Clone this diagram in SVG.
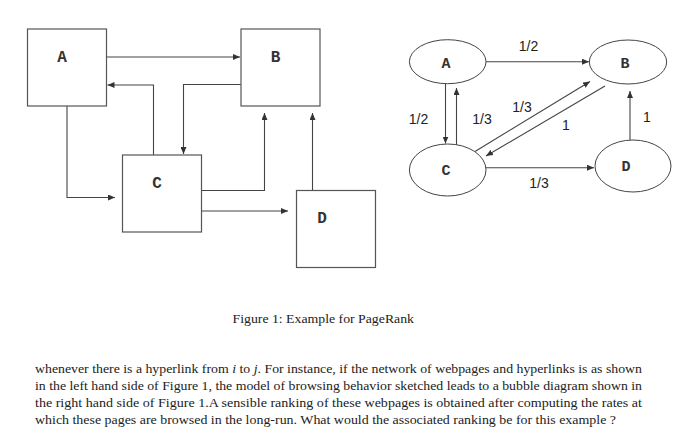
<svg xmlns="http://www.w3.org/2000/svg" width="700" height="435" viewBox="0 0 700 435">
<style>
.box{fill:#fff;stroke:#555;stroke-width:1.2}
.ell{fill:#fff;stroke:#444;stroke-width:1}
.ln{fill:none;stroke:#444;stroke-width:1.1}
.lbl{font-family:"Liberation Mono",monospace;font-size:16px;font-weight:bold;fill:#333;text-anchor:middle}
.nl{font-family:"Liberation Mono",monospace;font-size:15px;font-weight:bold;fill:#333;text-anchor:middle}
.wt{font-family:"Liberation Sans",Arial,sans-serif;font-size:14px;fill:#222;text-anchor:middle}
.tx{font-family:"Liberation Serif","Times New Roman",serif;font-size:13.5px;fill:#222}
</style>
<defs>
<marker id="ah" markerUnits="userSpaceOnUse" markerWidth="8" markerHeight="6" refX="7" refY="3" orient="auto">
<path d="M0,0 L7,3 L0,6 z" fill="#333"/>
</marker>
</defs>
<rect width="700" height="435" fill="#fff"/>
<g id="left-connectors">
<path class="ln" d="M107,57 H240" marker-end="url(#ah)"/>
<path class="ln" d="M153.5,155 V85 H107.5" marker-end="url(#ah)"/>
<path class="ln" d="M241,84.5 H183.5 V154" marker-end="url(#ah)"/>
<path class="ln" d="M67,106 V197.5 H115" marker-end="url(#ah)"/>
<path class="ln" d="M201,190.5 H264.5 V113" marker-end="url(#ah)"/>
<path class="ln" d="M201,211 H288" marker-end="url(#ah)"/>
<path class="ln" d="M312.5,190 V113" marker-end="url(#ah)"/>
</g>
<g id="box-A"><rect class="box" x="27.5" y="29" width="79" height="77"/><text class="lbl" x="62" y="62">A</text></g>
<g id="box-B"><rect class="box" x="241" y="29" width="79" height="77"/><text class="lbl" x="275.5" y="62">B</text></g>
<g id="box-C"><rect class="box" x="122.5" y="155" width="79" height="77"/><text class="lbl" x="157" y="188">C</text></g>
<g id="box-D"><rect class="box" x="296.5" y="190.5" width="79" height="77"/><text class="lbl" x="322" y="223">D</text></g>
<g id="right-connectors">
<path class="ln" d="M486,61.7 H589" marker-end="url(#ah)"/>
<path class="ln" d="M445.5,84 V143.5" marker-end="url(#ah)"/>
<path class="ln" d="M456.5,145 V88" marker-end="url(#ah)"/>
<path class="ln" d="M475,151.5 L590,81.5" marker-end="url(#ah)"/>
<path class="ln" d="M605,86 L486,156" marker-end="url(#ah)"/>
<path class="ln" d="M486,167.7 H594" marker-end="url(#ah)"/>
<path class="ln" d="M630,140 V91" marker-end="url(#ah)"/>
<text class="wt" x="528.5" y="50.5">1/2</text>
<text class="wt" x="418.5" y="123.5">1/2</text>
<text class="wt" x="482" y="123.5">1/3</text>
<text class="wt" x="522" y="111.5">1/3</text>
<text class="wt" x="566" y="130">1</text>
<text class="wt" x="647" y="122">1</text>
<text class="wt" x="539" y="187.5">1/3</text>
</g>
<g id="node-A"><ellipse class="ell" cx="447.7" cy="61.7" rx="38.3" ry="22"/><text class="nl" x="446" y="67.5">A</text></g>
<g id="node-B"><ellipse class="ell" cx="628" cy="62" rx="38.7" ry="22"/><text class="nl" x="625" y="67.5">B</text></g>
<g id="node-C"><ellipse class="ell" cx="447.7" cy="170" rx="38.3" ry="26"/><text class="nl" x="446" y="175">C</text></g>
<g id="node-D"><ellipse class="ell" cx="633" cy="166" rx="38" ry="26"/><text class="nl" x="626" y="171">D</text></g>
<text class="tx" x="232.5" y="323" textLength="181.5" lengthAdjust="spacingAndGlyphs">Figure 1: Example for PageRank</text>
<text class="tx" x="35" y="372.5" textLength="607" lengthAdjust="spacingAndGlyphs">whenever there is a hyperlink from <tspan font-style="italic">i</tspan> to <tspan font-style="italic">j</tspan>. For instance, if the network of webpages and hyperlinks is as shown</text>
<text class="tx" x="35" y="389.5" textLength="607" lengthAdjust="spacingAndGlyphs">in the left hand side of Figure 1, the model of browsing behavior sketched leads to a bubble diagram shown in</text>
<text class="tx" x="35" y="406.5" textLength="607" lengthAdjust="spacingAndGlyphs">the right hand side of Figure 1.A sensible ranking of these webpages is obtained after computing the rates at</text>
<text class="tx" x="35" y="423.5" textLength="581" lengthAdjust="spacingAndGlyphs">which these pages are browsed in the long-run. What would the associated ranking be for this example ?</text>
</svg>
